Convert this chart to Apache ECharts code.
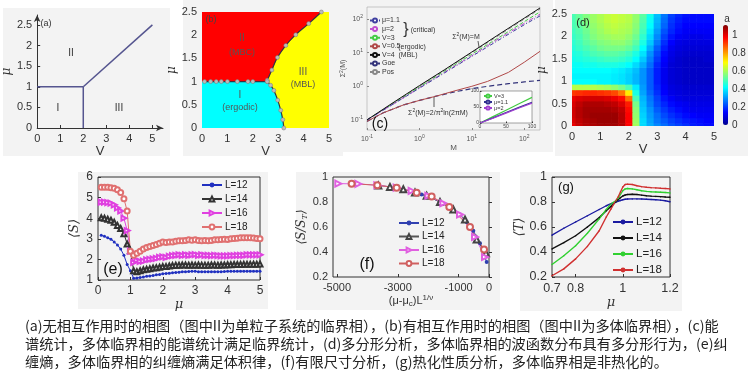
<!DOCTYPE html>
<html><head><meta charset="utf-8">
<script src="https://cdn.jsdelivr.net/npm/echarts@6/dist/echarts.min.js"></script>
<style>html,body{margin:0;padding:0;background:#fff}#c{width:750px;height:377px}</style>
</head><body><div id="c"></div>
<script>
// ---------- panel (a) ----------
const aLineH = [[0,1],[2,1]];
const aLineV = [[2,0],[2,1]];
const aLineD = [[2,1],[5,2.5]];
// ---------- panel (b) ----------
const bHoriz = [[0.1,1],[0.34,1],[0.56,1],[0.76,1],[1.0,1],[1.39,1],[1.81,1],[2.0,1],[2.57,1.0]];
const bUpper = [[2.57,1.03],[2.75,1.25],[2.97,1.52],[3.3,1.78],[3.69,2.01],[4.2,2.25],[4.7,2.5]];
const bLower = [[2.57,1.0],[2.7,0.92],[2.83,0.81],[2.98,0.6],[3.1,0.38],[3.18,0.18],[3.22,0]];
const bYellow = [[0,0],[5,0],[5,2.5],[0,2.5]];
const bCyan = [[0,0],[3.22,0],[3.18,0.18],[3.1,0.38],[2.98,0.6],[2.83,0.81],[2.7,0.92],[2.57,1.0],[0,1]];
const bRed = [[0,1],[2.57,1.0],[2.75,1.25],[2.97,1.52],[3.3,1.78],[3.69,2.01],[4.2,2.25],[4.7,2.5],[0,2.5]];
// ---------- panel (c) ----------
const cMu11 = [[0.1,0.1],[0.3,0.28],[1,0.88],[3,2.5],[10,7.8],[30,22],[100,68],[200,125]];
const cMu2 = [[0.1,0.1],[0.3,0.28],[1,0.9],[3,2.6],[10,8.2],[30,24],[100,75],[200,140]];
const cV3 = [[0.1,0.1],[0.3,0.29],[1,0.95],[3,2.8],[10,9],[30,26],[100,84],[200,165]];
const cV05 = [[0.1,0.09],[0.2,0.16],[0.5,0.28],[1,0.38],[2,0.5],[5,0.75],[10,1.0],[20,1.4],[50,2.6],[100,5.2],[200,11]];
const cV4 = [[0.1,0.1],[0.3,0.31],[1,1.05],[3,3.1],[10,10.5],[30,32],[100,107],[200,215]];
const cGoe = [[0.1,0.09],[0.2,0.16],[0.5,0.28],[1,0.38],[2,0.5],[5,0.7],[10,0.85],[20,1.0],[50,1.2],[100,1.35],[200,1.5]];
const cPos = [[0.1,0.1],[1,1],[10,10],[100,100],[200,200]];
const insV3 = [[0,0],[25,20],[50,40],[75,60],[100,80]];
const insMu11 = [[0,0],[25,16],[50,33],[75,49],[100,65]];
const insMu2 = [[0,0],[25,15],[50,31],[75,47],[100,62]];
// ---------- panel (d) ----------
const dV = [0,0.25,0.5,0.75,1,1.25,1.5,1.75,2,2.25,2.5,2.75,3,3.25,3.5,3.75,4,4.25,4.5,4.75,5];
const dMu = [0,0.125,0.25,0.375,0.5,0.625,0.75,0.875,1,1.125,1.25,1.375,1.5,1.625,1.75,1.875,2,2.125,2.25,2.375,2.5];
const dA = [
 [1.0,1.04,1.06,1.07,1.08,1.08,1.08,1.06,0.98,0.6,0.38,0.33,0.29,0.26,0.23,0.21,0.19,0.17,0.16,0.15,0.15],
 [1.02,1.05,1.07,1.08,1.09,1.09,1.09,1.06,0.98,0.59,0.38,0.32,0.27,0.24,0.21,0.19,0.17,0.16,0.15,0.14,0.14],
 [1.03,1.06,1.08,1.09,1.09,1.09,1.09,1.06,0.98,0.58,0.37,0.31,0.26,0.22,0.19,0.17,0.15,0.14,0.13,0.13,0.13],
 [1.03,1.06,1.08,1.08,1.08,1.08,1.07,1.05,0.97,0.57,0.36,0.3,0.24,0.2,0.17,0.15,0.13,0.12,0.12,0.12,0.12],
 [1.02,1.05,1.07,1.07,1.07,1.06,1.05,1.02,0.95,0.55,0.35,0.28,0.22,0.18,0.15,0.13,0.12,0.11,0.11,0.11,0.11],
 [1.0,1.02,1.03,1.03,1.03,1.02,1.0,0.97,0.86,0.5,0.34,0.27,0.21,0.16,0.13,0.11,0.1,0.1,0.1,0.1,0.1],
 [0.92,0.93,0.94,0.94,0.93,0.92,0.9,0.85,0.72,0.45,0.32,0.25,0.19,0.14,0.11,0.1,0.09,0.09,0.09,0.09,0.09],
 [0.62,0.62,0.62,0.62,0.61,0.6,0.58,0.55,0.5,0.4,0.31,0.24,0.18,0.13,0.1,0.09,0.08,0.08,0.08,0.08,0.08],
 [0.42,0.42,0.42,0.42,0.41,0.41,0.4,0.39,0.37,0.34,0.3,0.24,0.17,0.12,0.09,0.08,0.07,0.07,0.07,0.07,0.07],
 [0.41,0.41,0.41,0.41,0.41,0.41,0.4,0.39,0.37,0.34,0.3,0.24,0.17,0.12,0.09,0.08,0.07,0.07,0.07,0.07,0.07],
 [0.42,0.42,0.42,0.42,0.42,0.42,0.41,0.4,0.38,0.35,0.3,0.24,0.17,0.12,0.09,0.08,0.07,0.07,0.07,0.07,0.07],
 [0.43,0.43,0.44,0.44,0.45,0.45,0.45,0.44,0.42,0.38,0.33,0.26,0.18,0.13,0.09,0.08,0.07,0.07,0.07,0.07,0.07],
 [0.44,0.45,0.46,0.47,0.48,0.49,0.49,0.48,0.46,0.42,0.36,0.28,0.2,0.14,0.1,0.08,0.07,0.07,0.07,0.08,0.08],
 [0.45,0.46,0.48,0.5,0.51,0.52,0.52,0.51,0.49,0.45,0.39,0.3,0.22,0.15,0.11,0.09,0.08,0.08,0.08,0.08,0.09],
 [0.46,0.48,0.5,0.52,0.54,0.55,0.55,0.55,0.53,0.49,0.42,0.33,0.24,0.17,0.12,0.1,0.09,0.09,0.09,0.09,0.1],
 [0.47,0.49,0.52,0.54,0.56,0.57,0.58,0.58,0.56,0.52,0.45,0.36,0.27,0.19,0.14,0.11,0.1,0.1,0.1,0.1,0.11],
 [0.48,0.5,0.53,0.56,0.58,0.59,0.6,0.6,0.58,0.54,0.47,0.38,0.29,0.21,0.16,0.13,0.12,0.11,0.11,0.12,0.12],
 [0.49,0.51,0.54,0.57,0.59,0.61,0.62,0.61,0.6,0.56,0.49,0.4,0.31,0.23,0.18,0.15,0.13,0.13,0.13,0.13,0.13],
 [0.5,0.52,0.55,0.58,0.6,0.62,0.63,0.62,0.61,0.57,0.5,0.42,0.33,0.25,0.19,0.16,0.14,0.14,0.14,0.14,0.14],
 [0.5,0.53,0.56,0.59,0.61,0.63,0.64,0.63,0.62,0.58,0.51,0.43,0.34,0.26,0.2,0.17,0.15,0.15,0.15,0.15,0.15],
 [0.5,0.53,0.56,0.59,0.61,0.63,0.64,0.63,0.62,0.58,0.52,0.44,0.35,0.27,0.21,0.18,0.16,0.15,0.15,0.15,0.15]
];
// ---------- panel (e) ----------
const eMu = [0.1,0.2,0.3,0.4,0.5,0.6,0.7,0.8,0.9,1.0,1.1,1.2,1.3,1.4,1.5,1.6,1.7,1.8,1.9,2.0,2.1,2.2,2.3,2.4,2.5,2.6,2.7,2.8,2.9,3.0,3.1,3.2,3.3,3.4,3.5,3.6,3.7,3.8,3.9,4.0,4.1,4.2,4.3,4.4,4.5,4.6,4.7,4.8,4.9,5.0];
const eL12 = [3.17,3.12,3.05,2.98,2.85,2.7,2.5,2.2,1.75,1.45,1.08,1.1,1.12,1.15,1.18,1.2,1.22,1.25,1.27,1.3,1.32,1.33,1.35,1.37,1.38,1.4,1.4,1.41,1.42,1.42,1.4,1.4,1.4,1.4,1.4,1.4,1.4,1.4,1.41,1.42,1.42,1.42,1.42,1.43,1.43,1.43,1.43,1.43,1.43,1.43];
const eL14 = [4.02,4.0,3.95,3.9,3.8,3.65,3.5,3.25,2.75,2.42,1.45,1.4,1.45,1.5,1.52,1.55,1.58,1.6,1.62,1.65,1.65,1.68,1.7,1.72,1.72,1.73,1.73,1.72,1.73,1.72,1.73,1.72,1.72,1.72,1.73,1.73,1.72,1.73,1.73,1.74,1.74,1.75,1.75,1.75,1.76,1.76,1.76,1.77,1.77,1.78];
const eL16 = [4.78,4.78,4.76,4.73,4.65,4.5,4.35,4.0,3.4,2.4,1.85,1.95,1.9,1.92,1.98,2.0,2.02,2.05,2.1,2.12,2.1,2.15,2.18,2.2,2.22,2.2,2.22,2.2,2.22,2.23,2.2,2.22,2.2,2.2,2.18,2.2,2.18,2.17,2.17,2.17,2.18,2.18,2.2,2.2,2.2,2.22,2.22,2.22,2.22,2.22];
const eL18 = [5.5,5.5,5.5,5.48,5.45,5.38,5.25,4.95,4.35,2.4,2.2,2.3,2.4,2.5,2.58,2.63,2.68,2.72,2.78,2.85,2.82,2.85,2.85,2.88,2.9,2.9,2.92,2.95,2.93,2.95,2.92,2.9,2.92,2.9,2.92,2.95,2.95,2.97,2.98,2.97,3.0,3.02,3.03,3.05,3.05,3.05,3.05,3.04,3.02,3.0];
// ---------- panel (f) ----------
const fL12 = [[-2215,0.86],[-1941,0.838],[-1612,0.80],[-1283,0.755],[-954,0.70],[-735,0.64],[-515,0.57],[-296,0.47],[-77,0.32]];
const fL14 = [[-3640,0.933],[-3257,0.921],[-2818,0.902],[-2434,0.877],[-2050,0.85],[-1612,0.80],[-1173,0.74],[-789,0.66],[-406,0.50],[-100,0.39]];
const fL16 = [[-4956,0.947],[-4298,0.945],[-3673,0.934],[-3037,0.915],[-2544,0.889],[-1996,0.85],[-1502,0.79],[-954,0.70],[-460,0.52],[-132,0.36]];
const fL18 = [[-4518,0.947],[-3673,0.934],[-3037,0.915],[-2379,0.875],[-1886,0.845],[-1305,0.76],[-625,0.60],[-164,0.42]];
// ---------- panel (g) ----------
const gMu = [0.7,0.75,0.8,0.85,0.9,0.93,0.95,0.97,0.98,0.99,1.0,1.01,1.02,1.04,1.06,1.08,1.1,1.12,1.14,1.16,1.18,1.2];
const gL12 = [0.535,0.59,0.64,0.69,0.74,0.77,0.787,0.8,0.806,0.812,0.818,0.822,0.824,0.825,0.825,0.824,0.822,0.82,0.818,0.815,0.81,0.802];
const gL14 = [0.425,0.475,0.53,0.6,0.675,0.73,0.765,0.8,0.818,0.835,0.848,0.856,0.86,0.862,0.86,0.855,0.85,0.847,0.845,0.843,0.84,0.838];
const gL16 = [0.3,0.37,0.45,0.55,0.665,0.74,0.785,0.81,0.83,0.86,0.89,0.905,0.908,0.905,0.898,0.89,0.885,0.882,0.88,0.878,0.876,0.873];
const gL18 = [0.21,0.265,0.345,0.445,0.57,0.68,0.745,0.81,0.84,0.88,0.92,0.94,0.943,0.94,0.93,0.923,0.918,0.915,0.913,0.91,0.908,0.905];
// ---------- texts ----------
const caption = [
 '(a)无相互作用时的相图（图中II为单粒子系统的临界相），(b)有相互作用时的相图（图中II为多体临界相），(c)能',
 '谱统计，多体临界相的能谱统计满足临界统计，(d)多分形分析，多体临界相的波函数分布具有多分形行为，(e)纠',
 '缠熵，多体临界相的纠缠熵满足体积律，(f)有限尺寸分析，(g)热化性质分析，多体临界相是非热化的。'
];
const fTicks = [-5000, -3000, -1000, 0];
const gTicks = [0.7, 0.8, 1, 1.2];
const jet = ['#00008f','#0000ff','#0080ff','#00ffff','#80ff80','#ffff00','#ff8000','#ff0000','#800000'];

const FF = 'Liberation Sans, Arial, sans-serif';
const zip = (xs, ys) => xs.map((x, i) => [x, ys[i]]);
const strip = n => n.split('|')[0];

function vAxis(gi, o) {
  const base = {
    gridIndex: gi, type: 'value', splitLine: {show: false},
    axisLine: {show: false, lineStyle: {color: '#333'}},
    axisTick: {show: true, inside: true, length: 3, lineStyle: {color: '#333'}},
    axisLabel: {fontFamily: FF, fontSize: 11, color: '#333', margin: 5},
    nameLocation: 'middle', nameTextStyle: {fontFamily: FF, fontSize: 13, color: '#333'}
  };
  const r = Object.assign({}, base, o);
  if (o.axisLabel) r.axisLabel = Object.assign({}, base.axisLabel, o.axisLabel);
  if (o.axisTick) r.axisTick = Object.assign({}, base.axisTick, o.axisTick);
  if (o.axisLine) r.axisLine = Object.assign({}, base.axisLine, o.axisLine);
  if (o.nameTextStyle) r.nameTextStyle = Object.assign({}, base.nameTextStyle, o.nameTextStyle);
  return r;
}
const logFmt = v => '{b|10}{s|' + Math.round(Math.log10(v)) + '}';
const logRich = {b: {fontSize: 7, color: '#555', fontFamily: FF}, s: {fontSize: 5, color: '#555', fontFamily: FF, padding: [0, 0, 5, 0]}};
const plain = v => String(Math.round(v * 1000) / 1000);

const grids = [
  {left: 33, top: 15, width: 130, height: 113},          // 0 a
  {left: 202, top: 12, width: 127, height: 116},         // 1 b
  {left: 367, top: 7, width: 173, height: 123, show: true, borderColor: '#aaa', borderWidth: 0.6}, // 2 c
  {left: 480, top: 91, width: 52, height: 32, show: true, borderColor: '#666', borderWidth: 0.6, backgroundColor: '#fff'}, // 3 inset
  {left: 572, top: 14, width: 142, height: 112},         // 4 d
  {left: 723, top: 25, width: 5, height: 100},           // 5 colorbar axis
  {left: 98, top: 177, width: 162, height: 103, show: true, borderColor: '#333', borderWidth: 1}, // 6 e
  {left: 333, top: 177, width: 156, height: 100, show: true, borderColor: '#333', borderWidth: 1}, // 7 f
  {left: 552, top: 177, width: 118, height: 100, show: true, borderColor: '#333', borderWidth: 1}  // 8 g
];

const xAxes = [
  vAxis(0, {min: 0, max: 5.46, interval: 1, axisLine: {show: true, symbol: ['none', 'arrow'], symbolSize: [5, 7]}, axisLabel: {showMaxLabel: false}, name: 'V', nameGap: 16}),
  vAxis(1, {min: 0, max: 5, interval: 1, axisTick: {show: false}, name: 'V', nameGap: 16}),
  vAxis(2, {type: 'log', logBase: 10, min: 0.1, max: 200, axisTick: {show: true, inside: true, length: 2, lineStyle: {color: '#888'}}, axisLabel: {formatter: logFmt, rich: logRich, showMinLabel: true, showMaxLabel: false, margin: 4}, name: 'M', nameGap: 12, nameTextStyle: {fontSize: 8, color: '#555'}}),
  vAxis(3, {min: 0, max: 100, interval: 50, axisTick: {length: 1.5}, axisLabel: {fontSize: 5, margin: 1, color: '#444'}}),
  vAxis(4, {min: 0, max: 5, interval: 1, axisTick: {show: false}, name: 'V', nameGap: 16}),
  vAxis(5, {show: false, min: 0, max: 1}),
  vAxis(6, {min: 0, max: 5, interval: 1, axisLabel: {fontSize: 12}, name: 'μ', nameGap: 17, nameTextStyle: {fontStyle: 'italic', fontFamily: 'DejaVu Serif', fontSize: 13}}),
  vAxis(7, {min: -5130, max: 0, axisLabel: {fontSize: 11, customValues: fTicks, formatter: plain}, axisTick: {customValues: fTicks},
    name: '(μ-μ{sb|c})L{sp|1/ν}', nameGap: 17, nameTextStyle: {fontSize: 11, rich: {sb: {fontSize: 8, padding: [6, 0, 0, 0]}, sp: {fontSize: 8, padding: [0, 0, 6, 0]}}}}),
  vAxis(8, {min: 0.7, max: 1.2, axisLabel: {fontSize: 12.5, customValues: gTicks, formatter: plain}, axisTick: {customValues: gTicks}, name: 'μ', nameGap: 19, nameTextStyle: {fontStyle: 'italic', fontFamily: 'DejaVu Serif', fontSize: 13}})
];
const yAxes = [
  vAxis(0, {min: 0, max: 2.74, interval: 0.5, axisLine: {show: true, symbol: ['none', 'arrow'], symbolSize: [5, 7]}, axisLabel: {showMaxLabel: false}, name: 'μ', nameGap: 17, nameRotate: 90, nameTextStyle: {fontStyle: 'italic', fontFamily: 'DejaVu Serif', fontSize: 12}}),
  vAxis(1, {min: 0, max: 2.5, interval: 0.5, axisTick: {show: false}, name: 'μ', nameGap: 16, nameRotate: 90, nameTextStyle: {fontStyle: 'italic', fontFamily: 'DejaVu Serif', fontSize: 12}}),
  vAxis(2, {type: 'log', logBase: 10, min: 0.05, max: 230, axisTick: {show: true, inside: true, length: 2, lineStyle: {color: '#888'}}, axisLabel: {formatter: logFmt, rich: logRich, showMinLabel: false, showMaxLabel: false, margin: 4}, name: '{a|Σ}{s|2}{a|(M)}', nameGap: 17, nameRotate: 90, nameTextStyle: {rich: {a: {fontSize: 7, color: '#555'}, s: {fontSize: 5, color: '#555', padding: [0, 0, 4, 0]}}}}),
  vAxis(3, {min: 0, max: 100, interval: 50, axisTick: {length: 1.5}, axisLabel: {fontSize: 5, margin: 1, color: '#444'}}),
  vAxis(4, {min: 0, max: 2.5, interval: 0.5, axisTick: {show: false}, name: 'μ', nameGap: 17, nameRotate: 90, nameTextStyle: {fontStyle: 'italic', fontFamily: 'DejaVu Serif', fontSize: 12}}),
  vAxis(5, {position: 'right', min: 0, max: 1.12, interval: 0.2, axisTick: {show: false}, axisLabel: {fontSize: 10, showMaxLabel: false, margin: 4}}),
  vAxis(6, {min: 1, max: 6, interval: 1, axisLabel: {fontSize: 12}, name: '⟨S⟩', nameGap: 17, nameRotate: 90, nameTextStyle: {fontSize: 13, fontFamily: 'DejaVu Serif', fontStyle: 'italic'}}),
  vAxis(7, {min: 0.2, max: 1, interval: 0.2, axisLabel: {fontSize: 11}, name: '⟨S/S{sb|T}⟩', nameGap: 24, nameRotate: 90, nameTextStyle: {fontSize: 12, fontFamily: 'DejaVu Serif', fontStyle: 'italic', rich: {sb: {fontSize: 8, fontFamily: 'DejaVu Serif', fontStyle: 'italic', padding: [6, 0, 0, 0]}}}}),
  vAxis(8, {min: 0.2, max: 1, interval: 0.2, axisLabel: {fontSize: 12.5}, name: '⟨T⟩', nameGap: 26, nameRotate: 90, nameTextStyle: {fontSize: 13, fontFamily: 'DejaVu Serif', fontStyle: 'italic'}})
];

function line(name, gi, data, o) {
  return Object.assign({name: name, type: 'line', xAxisIndex: gi, yAxisIndex: gi, data: data, showSymbol: false, animation: false}, o);
}
function poly(gi, pts, fill) {
  return {type: 'custom', xAxisIndex: gi, yAxisIndex: gi, data: [0], silent: true, animation: false, z: 1,
    renderItem: (p, api) => ({type: 'polygon', shape: {points: pts.map(q => api.coord(q))}, style: {fill: fill}})};
}

const dData = [];
dMu.forEach((m, i) => dV.forEach((v, j) => dData.push([v, m, dA[i][j]])));
const dHalfV = (dV[1] - dV[0]) / 2, dHalfMu = (dMu[1] - dMu[0]) / 2;

const bnd = {showSymbol: true, symbol: 'circle', symbolSize: 4, itemStyle: {color: '#bbb', borderColor: '#777', borderWidth: 0.5}, lineStyle: {color: '#334', width: 1.2}, smooth: true};

const series = [
  // a
  line('aH', 0, aLineH, {lineStyle: {color: '#55558f', width: 1.5}}),
  line('aV', 0, aLineV, {lineStyle: {color: '#55558f', width: 1.5}}),
  line('aD', 0, aLineD, {lineStyle: {color: '#55558f', width: 1.5}}),
  // b
  poly(1, bYellow, '#ffff00'),
  poly(1, bCyan, '#00ffff'),
  poly(1, bRed, '#ff0000'),
  line('bH', 1, bHoriz, Object.assign({}, bnd, {smooth: false})),
  line('bU', 1, bUpper, bnd),
  line('bL', 1, bLower, bnd),
  // c
  line('Pos', 2, cPos, {lineStyle: {color: '#888', width: 1, type: [4, 3]}, itemStyle: {color: '#888'}}),
  line('Goe', 2, cGoe, {lineStyle: {color: '#33337a', width: 1.2, type: [5, 3]}, itemStyle: {color: '#33337a'}}),
  line('V=0.5', 2, cV05, {lineStyle: {color: '#b04848', width: 1}, itemStyle: {color: '#b04848'}}),
  line('V=3', 2, cV3, {lineStyle: {color: '#44cc44', width: 1, type: [4, 2]}, itemStyle: {color: '#44cc44'}}),
  line('μ=2', 2, cMu2, {lineStyle: {color: '#c050d0', width: 1, type: [5, 2, 1, 2]}, itemStyle: {color: '#c050d0'}}),
  line('μ=1.1', 2, cMu11, {lineStyle: {color: '#4040a0', width: 1, type: [4, 2, 1, 2]}, itemStyle: {color: '#4040a0'}}),
  line('V=4', 2, cV4, {lineStyle: {color: '#111', width: 1}, itemStyle: {color: '#111'}}),
  // inset
  line('V=3|i', 3, insV3, {lineStyle: {color: '#44cc44', width: 1.2}, itemStyle: {color: '#44cc44'}}),
  line('μ=1.1|i', 3, insMu11, {lineStyle: {color: '#303090', width: 1.2}, itemStyle: {color: '#303090'}}),
  line('μ=2|i', 3, insMu2, {lineStyle: {color: '#a040d0', width: 1.2}, itemStyle: {color: '#a040d0'}}),
  // d
  {type: 'custom', xAxisIndex: 4, yAxisIndex: 4, data: dData, clip: true, silent: true, animation: false,
    renderItem: (p, api) => {
      const a = api.coord([api.value(0) - dHalfV, api.value(1) + dHalfMu]);
      const b = api.coord([api.value(0) + dHalfV, api.value(1) - dHalfMu]);
      return {type: 'rect', shape: {x: a[0], y: a[1], width: b[0] - a[0] + 0.6, height: b[1] - a[1] + 0.6}, style: {fill: api.visual('color')}};
    }},
  // e
  line('L=12|e', 6, zip(eMu, eL12), {showSymbol: true, symbol: 'circle', symbolSize: 3, lineStyle: {color: '#2030c0', width: 1}, itemStyle: {color: '#2030c0'}}),
  line('L=14|e', 6, zip(eMu, eL14), {showSymbol: true, symbol: 'emptyTriangle', symbolSize: 5, lineStyle: {color: '#333', width: 1}, itemStyle: {color: '#333', borderWidth: 0.8}}),
  line('L=16|e', 6, zip(eMu, eL16), {showSymbol: true, symbol: 'emptyTriangle', symbolRotate: -90, symbolSize: 5, lineStyle: {color: '#e040e0', width: 1}, itemStyle: {color: '#e040e0', borderWidth: 0.8}}),
  line('L=18|e', 6, zip(eMu, eL18), {showSymbol: true, symbol: 'emptyCircle', symbolSize: 5, lineStyle: {color: '#e07070', width: 1}, itemStyle: {color: '#e07070', borderWidth: 0.8}}),
  // f
  line('L=12|f', 7, fL12, {showSymbol: true, symbol: 'circle', symbolSize: 4, lineStyle: {color: '#3040b0', width: 1}, itemStyle: {color: '#3040b0'}}),
  line('L=14|f', 7, fL14, {showSymbol: true, symbol: 'emptyTriangle', symbolSize: 6, lineStyle: {color: '#555', width: 1}, itemStyle: {color: '#444', borderWidth: 0.8}}),
  line('L=16|f', 7, fL16, {showSymbol: true, symbol: 'emptyTriangle', symbolRotate: -90, symbolSize: 6, lineStyle: {color: '#e060e0', width: 1}, itemStyle: {color: '#e060e0', borderWidth: 0.8}}),
  line('L=18|f', 7, fL18, {showSymbol: true, symbol: 'emptyCircle', symbolSize: 6, lineStyle: {color: '#d06060', width: 1}, itemStyle: {color: '#d06060', borderWidth: 0.8}}),
  // g
  line('L=12|g', 8, zip(gMu, gL12), {showSymbol: true, symbol: 'circle', symbolSize: 1.5, lineStyle: {color: '#1a1aa0', width: 1.4}, itemStyle: {color: '#1a1aa0'}}),
  line('L=14|g', 8, zip(gMu, gL14), {showSymbol: true, symbol: 'circle', symbolSize: 1.5, lineStyle: {color: '#111', width: 1.4}, itemStyle: {color: '#111'}}),
  line('L=16|g', 8, zip(gMu, gL16), {showSymbol: true, symbol: 'circle', symbolSize: 1.5, lineStyle: {color: '#30d030', width: 1.4}, itemStyle: {color: '#30d030'}}),
  line('L=18|g', 8, zip(gMu, gL18), {showSymbol: true, symbol: 'circle', symbolSize: 1.5, lineStyle: {color: '#d03030', width: 1.4}, itemStyle: {color: '#d03030'}})
];
const dIndex = series.findIndex(s => s.data === dData);

function lg(names, left, top, o) {
  return Object.assign({data: names, left: left, top: top, orient: 'vertical', padding: 0, selectedMode: false,
    formatter: strip, textStyle: {fontFamily: FF, fontSize: 10, color: '#222', padding: [0, 0, 0, -2]}}, o);
}
const legends = [
  lg(['μ=1.1', 'μ=2', 'V=3', 'V=0.5', 'V=4', 'Goe', 'Pos'], 369, 17, {itemWidth: 10, itemHeight: 5, itemGap: 1.6, textStyle: {fontFamily: FF, fontSize: 7, color: '#333', padding: [0, 0, 0, -3]}}),
  lg(['V=3|i', 'μ=1.1|i', 'μ=2|i'], 483, 93, {itemWidth: 8, itemHeight: 4, itemGap: 0, textStyle: {fontFamily: FF, fontSize: 5.5, color: '#333', padding: [0, 0, 0, -3]}}),
  lg(['L=12|e', 'L=14|e', 'L=16|e', 'L=18|e'], 201, 180, {itemWidth: 20, itemHeight: 6, itemGap: 4}),
  lg(['L=12|f', 'L=14|f', 'L=16|f', 'L=18|f'], 398, 218, {itemWidth: 20, itemHeight: 6, itemGap: 3.5}),
  lg(['L=12|g', 'L=14|g', 'L=16|g', 'L=18|g'], 612, 216, {itemWidth: 20, itemHeight: 6, itemGap: 4, textStyle: {fontFamily: FF, fontSize: 11.5, color: '#222', padding: [0, 0, 0, -2]}})
];

function txt(x, y, t, fs, o) {
  return {type: 'text', x: x, y: y, silent: true, zlevel: 1,
    style: Object.assign({text: t, fontSize: fs, fontFamily: FF, fill: '#333', align: 'center', verticalAlign: 'middle', textAlign: 'center', textVerticalAlign: 'middle'}, o || {})};
}
const bg = (x, y, w, h) => ({type: 'rect', shape: {x: x, y: y, width: w, height: h}, style: {fill: '#f3f3f3'}, z: -10, silent: true});
const supRich = {a: {fontSize: 7, fontFamily: FF, fill: '#333'}, s: {fontSize: 5, fontFamily: FF, fill: '#333', padding: [0, 0, 4, 0]}};

const graphics = [
  bg(3, 8, 167, 148), bg(183, 0, 160, 156), bg(343, 0, 210, 152), bg(555, 0, 193, 156),
  bg(78, 172, 190, 137), bg(296, 172, 204, 138), bg(520, 172, 162, 139),
  // a
  txt(46, 24, '(a)', 9), txt(71, 53, 'II', 10), txt(58, 108, 'I', 10), txt(119, 108, 'III', 10),
  // b
  txt(211, 20, '(b)', 9, {fill: '#444'}), txt(242, 38, 'II', 10, {fill: '#555'}), txt(242, 53, '(MBC)', 9, {fill: '#555'}),
  txt(240, 95, 'I', 10, {fill: '#555'}), txt(240, 108, '(ergodic)', 9, {fill: '#555'}),
  txt(303, 72, 'III', 10, {fill: '#555'}), txt(303, 85, '(MBL)', 9, {fill: '#555'}),
  // c
  txt(406, 30, '}', 16, {fill: '#333'}), txt(423, 30, '(critical)', 7), txt(412, 47, '(ergodic)', 7), txt(408, 55, '(MBL)', 7),
  {type: 'text', x: 466, y: 37, zlevel: 1, silent: true, style: {text: '{a|Σ}{s|2}{a|(M)=M}', align: 'center', verticalAlign: 'middle', textAlign: 'center', textVerticalAlign: 'middle', rich: supRich}},
  {type: 'line', zlevel: 1, shape: {x1: 478, y1: 41, x2: 479, y2: 47}, style: {stroke: '#333', lineWidth: 0.8}},
  {type: 'text', x: 438, y: 113, zlevel: 1, silent: true, style: {text: '{a|Σ}{s|2}{a|(M)=2/π}{s|2}{a|ln(2πM)}', align: 'center', verticalAlign: 'middle', textAlign: 'center', textVerticalAlign: 'middle', rich: supRich}},
  {type: 'line', zlevel: 1, shape: {x1: 434, y1: 107, x2: 434, y2: 97}, style: {stroke: '#333', lineWidth: 0.8}},
  txt(380, 124, '(c)', 14, {fill: '#111'}),
  // d
  txt(583, 23, '(d)', 11, {fill: '#222'}), txt(727, 19, 'a', 10),
  // e f g
  txt(113, 270, '(e)', 16, {fill: '#111'}), txt(367, 265, '(f)', 16, {fill: '#111'}), txt(566, 187, '(g)', 13, {fill: '#111'}),
  // caption
  ...caption.map((t, i) => ({type: 'text', x: 25, y: 326 + i * 18, silent: true, zlevel: 1, style: {text: t, fontSize: 14.2, fontFamily: 'Noto Sans CJK SC', fill: '#222', align: 'left', verticalAlign: 'middle', textAlign: 'left', textVerticalAlign: 'middle'}}))
];

const chart = echarts.init(document.getElementById('c'), null, {renderer: 'canvas'});
chart.setOption({
  animation: false,
  backgroundColor: '#fff',
  textStyle: {fontFamily: FF},
  grid: grids,
  xAxis: xAxes,
  yAxis: yAxes,
  legend: legends,
  visualMap: [{type: 'continuous', seriesIndex: dIndex, dimension: 2, min: 0, max: 1.12, inRange: {color: jet},
    left: 723, top: 25, itemWidth: 5, itemHeight: 100, calculable: false, text: ['', ''], showLabel: false, padding: 0, orient: 'vertical'}],
  series: series,
  graphic: graphics
});
</script></body></html>
